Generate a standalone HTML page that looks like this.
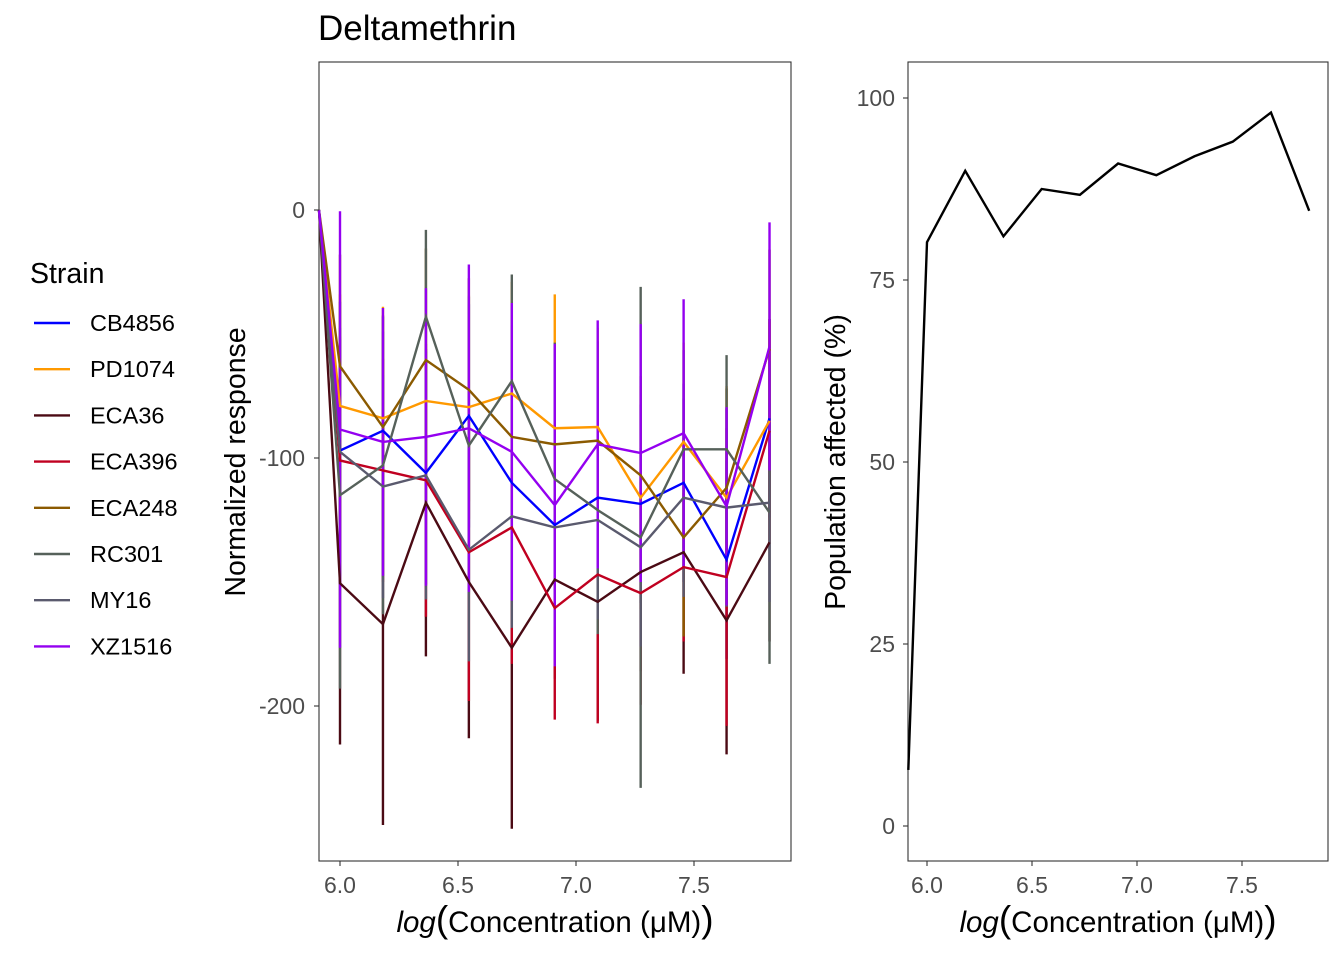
<!DOCTYPE html>
<html><head><meta charset="utf-8"><style>
html,body{margin:0;padding:0;background:#fff;}
svg{display:block;font-family:"Liberation Sans",Arial,sans-serif;}
</style></head><body>
<svg id="chart" width="1344" height="960" viewBox="0 0 1344 960">
<text x="318" y="40" font-size="35" fill="#000">Deltamethrin</text>
<g id="left"></g>
<g id="right"></g>
<g id="legend"></g>
</svg>
<script>
const xVals = [5.911, 6.0, 6.182, 6.364, 6.546, 6.728, 6.91, 7.092, 7.274, 7.456, 7.638, 7.82];
const strains = ["CB4856","PD1074","ECA36","ECA396","ECA248","RC301","MY16","XZ1516"];
const strainColors = ["#0000ff","#ff9900","#4b0a14","#c00020","#8b5a00","#56615a","#5a5a6e","#9400f0"];
const sCB4856 = [0,-97,-89,-106,-83,-110,-127,-116,-118.5,-110,-141,-84];
const sPD1074 = [0,-79,-84,-77,-79.5,-74,-88,-87.5,-116,-93.5,-116,-85];
const sECA36  = [0,-150.5,-167,-118,-150,-176.5,-149,-158,-146,-138,-165.5,-134];
const sECA396 = [0,-101,-105,-109,-138,-128,-160.5,-147,-154.5,-144,-148,-89];
const sECA248 = [0,-63,-87.5,-60.5,-72.5,-91.5,-94.5,-93,-107,-132,-112,-56];
const sRC301  = [0,-115,-103,-43,-95,-69,-108.5,-121,-132,-96.5,-96.5,-122];
const sMY16   = [0,-97.5,-111.5,-107,-137,-123.5,-128,-125,-136,-116,-120,-118];
const sXZ1516 = [0,-88.5,-93.5,-91.5,-88,-97.5,-119,-94.5,-98,-90,-119.5,-55];
const eCB4856 = [0,45,40,45,45,45,40,40,40,40,40,40];
const ePD1074 = [0,45,45,45,45,45,54,40,45,40,45,40];
const eECA36  = [0,65,81,62,63,73,40,48,40,49,54,40];
const eECA396 = [0,50,45,55,60,55,45,60,45,30,60,45];
const eECA248 = [0,45,45,45,45,45,40,40,40,40,40,40];
const eRC301  = [0,78,60,35,60,43,55,50,101,40,38,61];
const eMY16   = [0,50,45,50,45,45,40,40,40,40,40,40];
const eXZ1516 = [0,88,54,60,66,60,65,50,52,54,40,50];
const series = [sCB4856,sPD1074,sECA36,sECA396,sECA248,sRC301,sMY16,sXZ1516];
const errors = [eCB4856,ePD1074,eECA36,eECA396,eECA248,eRC301,eMY16,eXZ1516];
const leftYTicks = [0,-100,-200];
const xTicks = [6.0,6.5,7.0,7.5];
const popVals = [7.7,80.2,90,81,87.5,86.7,91,89.4,92,94,98,84.5];
const rightYTicks = [0,25,50,75,100];

const NS="http://www.w3.org/2000/svg";
function mk(tag, attrs, parent, text){const e=document.createElementNS(NS,tag);for(const k in attrs)e.setAttribute(k,attrs[k]);if(text!==undefined)e.textContent=text;parent.appendChild(e);return e;}

const L={x0:319,x1:791,y0:62,y1:861};
const lx=v=>340+(v-6.0)*236;
const ly=v=>210-v*2.48;
const left=document.getElementById('left');
const lframe=mk('rect',{x:L.x0,y:L.y0,width:L.x1-L.x0,height:L.y1-L.y0,fill:'#fff',stroke:'#333','stroke-width':1.1},left);


series.forEach((s,i)=>{
  const g=mk('g',{},left);
  
  
  s.forEach((v,j)=>{ if(errors[i][j]===0)return;
    const l=mk('line',{x1:lx(xVals[j]),x2:lx(xVals[j]),y1:ly(v+errors[i][j]),y2:ly(v-errors[i][j]),stroke:strainColors[i],'stroke-width':2.4},g);
    
    
  });
});
series.forEach((s,i)=>{
  const p=mk('polyline',{points:s.map((v,j)=>lx(xVals[j])+','+ly(v)).join(' '),fill:'none',stroke:strainColors[i],'stroke-width':2.4},left);
  
  
});
leftYTicks.forEach(t=>{
  mk('line',{x1:314,x2:319,y1:ly(t),y2:ly(t),stroke:'#333','stroke-width':1.1},left);
  const tx=mk('text',{x:305,y:ly(t)+8,'text-anchor':'end','font-size':23,fill:'#4d4d4d'},left,String(t));
  
  
});
xTicks.forEach(t=>{
  mk('line',{x1:lx(t),x2:lx(t),y1:861,y2:866,stroke:'#333','stroke-width':1.1},left);
  const tx=mk('text',{x:lx(t),y:893,'text-anchor':'middle','font-size':23,fill:'#4d4d4d'},left,t.toFixed(1));
  
  
});
function xTitle(parent,cx){
  const t=mk('text',{x:cx,y:932,'text-anchor':'middle','font-size':29.5,fill:'#000'},parent);
  
  
  mk('tspan',{'font-style':'italic'},t,'log');
  mk('tspan',{'font-size':37},t,'(');
  mk('tspan',{},t,'Concentration (μM)');
  mk('tspan',{'font-size':37},t,')');
}
xTitle(left,555);
const ylab=mk('text',{x:0,y:0,transform:'translate(245,462) rotate(-90)','text-anchor':'middle','font-size':28.5,fill:'#000'},left,'Normalized response');



const R={x0:908,x1:1328,y0:62,y1:861};
const rx=v=>927+(v-6.0)*210;
const ry=v=>826-v*7.28;
const right=document.getElementById('right');
const rframe=mk('rect',{x:R.x0,y:R.y0,width:R.x1-R.x0,height:R.y1-R.y0,fill:'#fff',stroke:'#333','stroke-width':1.1},right);


const pl=mk('polyline',{points:popVals.map((v,j)=>rx(xVals[j])+','+ry(v)).join(' '),fill:'none',stroke:'#000','stroke-width':2.4},right);


rightYTicks.forEach(t=>{
  mk('line',{x1:903,x2:908,y1:ry(t),y2:ry(t),stroke:'#333','stroke-width':1.1},right);
  const tx=mk('text',{x:895,y:ry(t)+8,'text-anchor':'end','font-size':23,fill:'#4d4d4d'},right,String(t));
  
  
});
xTicks.forEach(t=>{
  mk('line',{x1:rx(t),x2:rx(t),y1:861,y2:866,stroke:'#333','stroke-width':1.1},right);
  const tx=mk('text',{x:rx(t),y:893,'text-anchor':'middle','font-size':23,fill:'#4d4d4d'},right,t.toFixed(1));
  
  
});
xTitle(right,1118);
const ylab2=mk('text',{x:0,y:0,transform:'translate(845,462) rotate(-90)','text-anchor':'middle','font-size':28.5,fill:'#000'},right,'Population affected (%)');



const lg=document.getElementById('legend');
const lt=mk('text',{x:30,y:283,'font-size':28.5,fill:'#000'},lg,'Strain');


strains.forEach((s,i)=>{
  const y=323+i*46.2;
  const g=mk('g',{},lg);
  
  
  mk('line',{x1:34,x2:70,y1:y,y2:y,stroke:strainColors[i],'stroke-width':2.4},g);
  mk('text',{x:90,y:y+8,'font-size':23.5,fill:'#000'},g,s);
});
</script>
</body></html>
